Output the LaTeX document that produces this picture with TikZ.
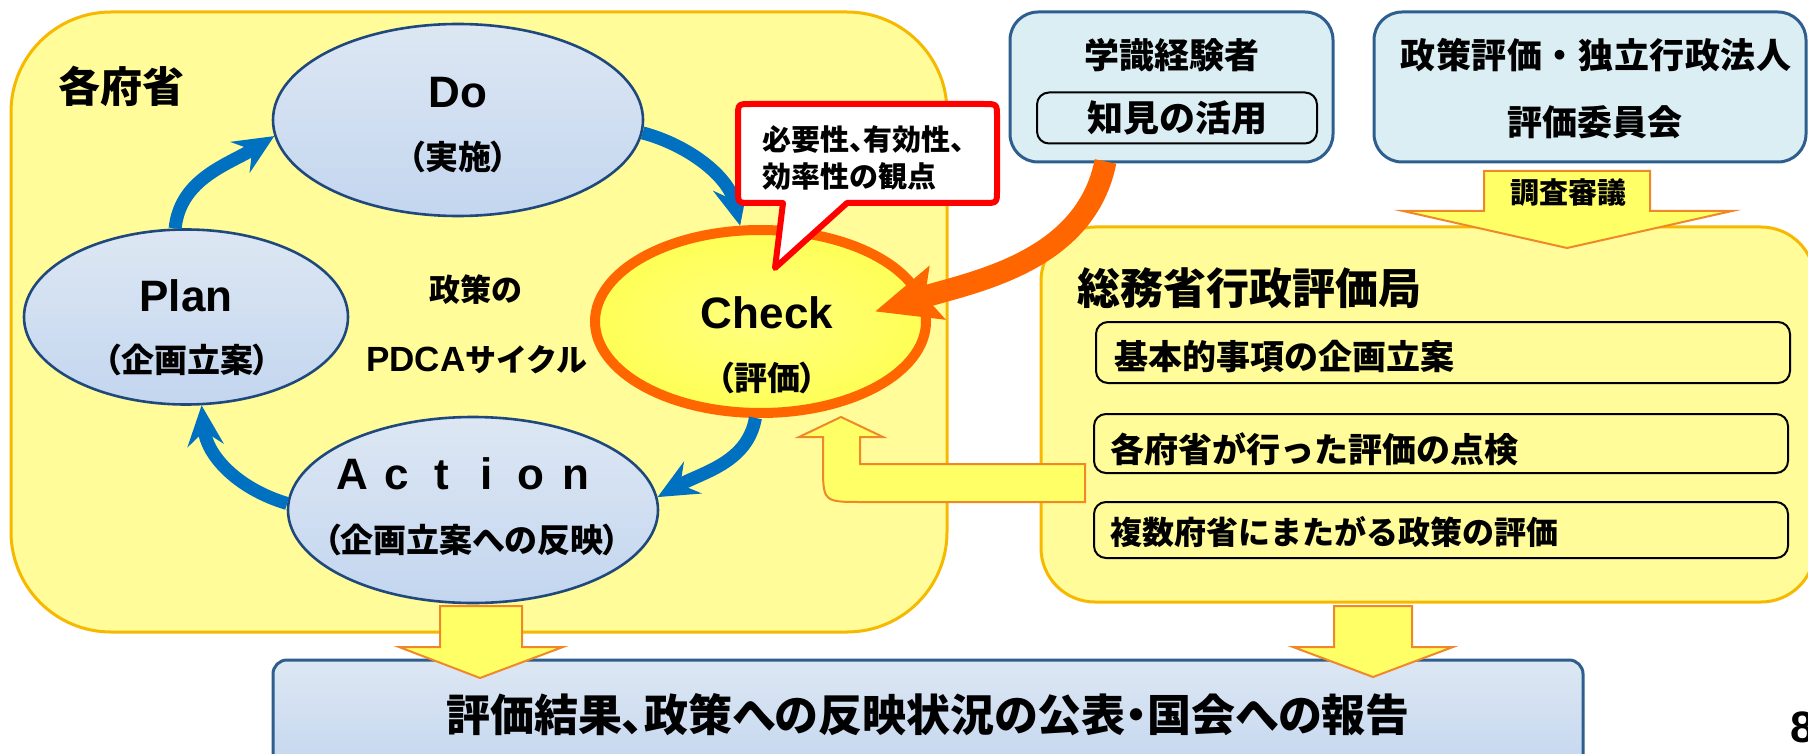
\documentclass[tikz,border=0pt]{standalone}
\usepackage{fontspec}
\setmainfont{Noto Sans CJK JP}
\newfontfamily\jpp{Noto Sans CJK JP}[RawFeature=+palt]
\newfontfamily\lat{Liberation Sans}
\usetikzlibrary{arrows.meta,shapes.geometric,calc}
\definecolor{boxyellow}{HTML}{FFFC99}
\definecolor{boxgold}{HTML}{F7B800}
\definecolor{elltop}{HTML}{DDE7F3}
\definecolor{ellbot}{HTML}{C3D6EF}
\definecolor{elledge}{HTML}{1F497D}
\definecolor{lcyan}{HTML}{DBEEF4}
\definecolor{cyanedge}{HTML}{2E5E8E}
\definecolor{arrblue}{HTML}{0070C0}
\definecolor{arrorange}{HTML}{FF6600}
\definecolor{checkin}{HTML}{FFFF80}
\definecolor{checkout}{HTML}{FFFF55}
\definecolor{blockfill}{HTML}{FFFF66}
\definecolor{blockedge}{HTML}{F0882A}
\definecolor{calloutred}{HTML}{FF0000}
\newcommand\fsz[1]{\fontsize{#1pt}{#1pt}\selectfont}
\newcommand\spc[2]{\makebox[#1]{#2}}
\begin{document}
\begin{tikzpicture}[x=0.5pt,y=-0.5pt,
  txt/.style={inner sep=0pt, font=\bfseries},
  yelbox/.style={draw=boxgold, fill=boxyellow, line width=1.5pt},
  cyanbox/.style={draw=cyanedge, fill=lcyan, line width=1.5pt, rounded corners=14pt},
  subbox/.style={draw=black, line width=1pt, rounded corners=6pt},
  pdca/.style={ellipse, draw=elledge, line width=1.3pt, top color=elltop, bottom color=ellbot, inner sep=0pt},
  bluearrow/.style={draw=arrblue, line width=6.5pt, -{Stealth[length=20pt,width=18pt,inset=7pt]}},
  blockarrow/.style={draw=blockedge, line width=1pt, fill=blockfill, line join=miter},
]
\useasboundingbox (0,0) rectangle (1808,754);
\fill[white] (0,0) rectangle (1808,754);

% containers
\node[yelbox, minimum width=468pt, minimum height=310pt, rounded corners=50pt] (min) at (479,322) {};
\node[yelbox, minimum width=387pt, minimum height=187.5pt, rounded corners=27pt] (soumu) at (1428,414.5) {};
\node[cyanbox, minimum width=161.5pt, minimum height=75pt] (gak) at (1171.5,87) {};
\node[cyanbox, minimum width=216pt, minimum height=75pt] (iinkai) at (1590,87) {};

% top right boxes
\node[txt, font=\bfseries\fsz{17.5}] (gakt) at (1172,55) {学識経験者};
\node[subbox, fill=lcyan, minimum width=140pt, minimum height=25.5pt, inner sep=0pt, font=\bfseries\fsz{18}] (chiken) at (1177,118) {知見の活用};
\node[txt, font=\bfseries\fsz{17.5}] (iin1) at (1596,55) {\spc{17.8pt}{政}\spc{17.8pt}{策}\spc{17.8pt}{評}\spc{17.8pt}{価}\spc{17.8pt}{・}\spc{17.8pt}{独}\spc{17.8pt}{立}\spc{17.8pt}{行}\spc{17.8pt}{政}\spc{17.8pt}{法}\spc{17.8pt}{人}};
\node[txt, font=\bfseries\fsz{17.5}] (iin2) at (1595,122) {評価委員会};

% soumu contents
\node[txt, font=\bfseries\fsz{21.5}, anchor=west] (soumut) at (1077,288) {総務省行政評価局};
\node[subbox, fill=boxyellow, minimum width=347pt, minimum height=30.5pt] (s1) at (1443,352.5) {};
\node[subbox, fill=boxyellow, minimum width=347pt, minimum height=29.5pt] (s2) at (1441,443.5) {};
\node[subbox, fill=boxyellow, minimum width=347pt, minimum height=28pt] (s3) at (1441,530) {};
\node[txt, font=\bfseries\fsz{17}, anchor=west] (s1t) at (1114,357) {基本的事項の企画立案};
\node[txt, font=\bfseries\fsz{17}, anchor=west] (s2t) at (1110,449) {各府省が行った評価の点検};
\node[txt, font=\bfseries\fsz{16}, anchor=west] (s3t) at (1110,532) {複数府省にまたがる政策の評価};

% ministries contents
\node[txt, font=\bfseries\fsz{21}] (mint) at (121,86) {各府省};
\node[pdca, minimum width=185pt, minimum height=96pt] (do) at (458,120) {};
\node[pdca, minimum width=162pt, minimum height=87.5pt] (plan) at (186,317) {};
\node[pdca, minimum width=185pt, minimum height=93pt] (act) at (473,510) {};
\node[ellipse, draw=arrorange, line width=5pt, inner color=checkin, outer color=checkout, minimum width=165.5pt, minimum height=91.5pt, inner sep=0pt] (check) at (760.5,321.5) {};

\node[txt, font=\lat\bfseries\fsz{22}] (dot) at (458,93) {Do};
\node[txt, font=\jpp\bfseries\fsz{16.5}] (dot2) at (458,157) {（実施）};
\node[txt, font=\lat\bfseries\fsz{22}] (plant) at (186,296) {Plan};
\node[txt, font=\jpp\bfseries\fsz{16.5}] (plant2) at (187,360) {（企画立案）};
\node[txt, font=\lat\bfseries\fsz{22}] (checkt) at (767,313) {Check};
\node[txt, font=\jpp\bfseries\fsz{16.5}] (checkt2) at (767,378) {（評価）};
\node[txt, font=\lat\bfseries\fsz{22}] (actt) at (464,474) {\spc{22.3pt}{A}\spc{22.3pt}{c}\spc{22.3pt}{t}\spc{22.3pt}{i}\spc{22.3pt}{o}\spc{22.3pt}{n}};
\node[txt, font=\jpp\bfseries\fsz{16.5}] (actt2) at (472,540) {（企画立案への反映）};
\node[txt, font=\bfseries\fsz{15.5}] (cyc1) at (476,290) {政策の};
\node[txt, font=\bfseries\fsz{15.5}] (cyc2) at (477,360) {{\lat\bfseries\fsz{17.5}PDCA}サイクル};

% blue cycle arrows
\draw[bluearrow] (plan.97) .. controls +(5,-50) and +(-45,28) .. (do.185);
\draw[bluearrow] (do.-4) .. controls +(45,12) and +(-12,-50) .. (check.102);
\draw[bluearrow] (check.-93) .. controls +(-8,45) and +(45,-25) .. (act.4);
\draw[bluearrow] (act.178) .. controls +(-50,-15) and +(5,50) .. (plan.-80);

% callout
\draw[draw=calloutred, fill=white, line width=3pt, line join=round]
  (751,104) -- (984,104) .. controls (997,104) .. (997,117) -- (997,190) .. controls (997,203) .. (984,203)
  -- (847,203) -- (775,268) -- (783,203) -- (751,203) .. controls (738,203) .. (738,190)
  -- (738,117) .. controls (738,104) .. cycle;
\node[txt, font=\jpp\bfseries\fsz{14.5}, anchor=west, align=left] (callt) at (762,158) {必要性、有効性、\\[4pt]効率性の観点};

% orange arrow from experts to Check
\coordinate (orstart) at ($(gak.south)+(-66,-2)$);
\draw[draw=arrorange, line width=11pt, -{Stealth[length=32pt,width=27pt,inset=6pt]}]
  (orstart) .. controls +(-20,100) and +(100,-30) .. ($(check.east)+(-56,-10)$);

% feedback block arrow (soumu -> check)
\draw[blockarrow] (841,417) -- (883,437) -- (860,437) -- (860,464) -- (1085,464) -- (1085,502)
  -- (862,502) .. controls (823,502) .. (823,464) -- (823,437) -- (799,437) -- cycle;

% chousa shingi arrow
\draw[blockarrow] (1484,171) -- (1650,171) -- (1650,211) -- (1732,211) -- (1567,248) -- (1403,211) -- (1484,211) -- cycle;
\node[txt, font=\bfseries\fsz{14.5}] (chousa) at (1568,193) {調査審議};

% report box
\node[draw=cyanedge, line width=1.5pt, top color=elltop, bottom color=ellbot, rounded corners=7pt,
  minimum width=655pt, minimum height=57.5pt, inner sep=0pt] (report) at (928,717.5) {};
\node[txt, font=\jpp\bfseries\fsz{22}] (reportt) at (928,715) {評価結果、政策への反映状況の公表・国会への報告};

% bottom arrows
\draw[blockarrow] (440,606) -- (522,606) -- (522,647) -- (563,647) -- (480,678) -- (399,647) -- (440,647) -- cycle;
\draw[blockarrow] (1334,606) -- (1412,606) -- (1412,647) -- (1453,647) -- (1373,677) -- (1293,647) -- (1334,647) -- cycle;

% page number
\node[txt, font=\lat\bfseries\fsz{22}, anchor=west] (pnum) at (1790,727) {8};
\end{tikzpicture}
\end{document}
